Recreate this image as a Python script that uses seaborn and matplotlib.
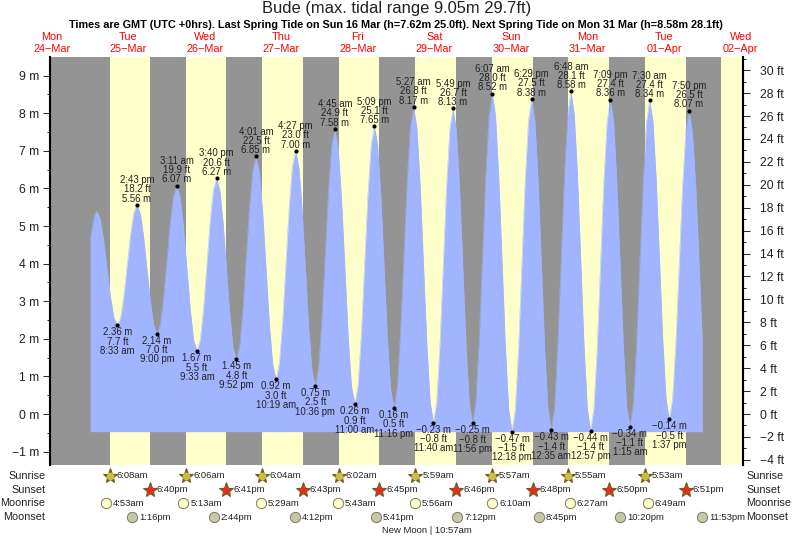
import matplotlib
matplotlib.use("Agg")
import matplotlib.pyplot as plt
from matplotlib.transforms import blended_transform_factory
from matplotlib.ticker import MultipleLocator
import seaborn as sns

sns.set_style("white")
plt.rcParams['font.family'] = ['Liberation Sans', 'DejaVu Sans']

W, H = 793, 539
TITLE = "Bude (max. tidal range 9.05m 29.7ft)"
SUBTITLE = ("Times are GMT (UTC +0hrs). Last Spring Tide on Sun 16 Mar (h=7.62m 25.0ft). "
            "Next Spring Tide on Mon 31 Mar (h=8.58m 28.1ft)")
NOTE = "New Moon | 10:57am"

# day headers (centred on noon of each day, day 0 = 24 Mar)
day_names = ["Mon", "Tue", "Wed", "Thu", "Fri", "Sat", "Sun", "Mon", "Tue", "Wed"]
day_dates = ["24\u2212Mar", "25\u2212Mar", "26\u2212Mar", "27\u2212Mar", "28\u2212Mar",
             "29\u2212Mar", "30\u2212Mar", "31\u2212Mar", "01\u2212Apr", "02\u2212Apr"]

# sun and moon times for days 1..8
sunrise = ["6:08am", "6:06am", "6:04am", "6:02am", "5:59am", "5:57am", "5:55am", "5:53am"]
sunset = ["6:40pm", "6:41pm", "6:43pm", "6:45pm", "6:46pm", "6:48pm", "6:50pm", "6:51pm"]
moonrise = ["4:53am", "5:13am", "5:29am", "5:43am", "5:56am", "6:10am", "6:27am", "6:49am"]
moonset = ["1:16pm", "2:44pm", "4:12pm", "5:41pm", "7:12pm", "8:45pm", "10:20pm", "11:53pm"]
last_sunrise = "5:51am"  # day 9, start of the final daylight band

# labelled tide turning points, alternating low / high
tide_day = [1, 1, 1, 2, 2, 2, 2, 3, 3, 3, 3, 4, 4, 4, 4, 5, 5, 5, 5,
            6, 6, 6, 7, 7, 7, 7, 8, 8, 8, 8]
tide_time = ["8:33 am", "2:43 pm", "9:00 pm", "3:11 am", "9:33 am", "3:40 pm", "9:52 pm",
             "4:01 am", "10:19 am", "4:27 pm", "10:36 pm", "4:45 am", "11:00 am", "5:09 pm",
             "11:16 pm", "5:27 am", "11:40 am", "5:49 pm", "11:56 pm", "6:07 am", "12:18 pm",
             "6:29 pm", "12:35 am", "6:48 am", "12:57 pm", "7:09 pm", "1:15 am", "7:30 am",
             "1:37 pm", "7:50 pm"]
tide_m = [2.36, 5.56, 2.14, 6.07, 1.67, 6.27, 1.45, 6.85, 0.92, 7.00, 0.75, 7.58, 0.26, 7.65,
          0.16, 8.17, -0.23, 8.13, -0.25, 8.52, -0.47, 8.38, -0.43, 8.58, -0.44, 8.36, -0.34,
          8.34, -0.14, 8.07]
tide_ft = [7.7, 18.2, 7.0, 19.9, 5.5, 20.6, 4.8, 22.5, 3.0, 23.0, 2.5, 24.9, 0.9, 25.1,
           0.5, 26.8, -0.8, 26.7, -0.8, 28.0, -1.5, 27.5, -1.4, 28.1, -1.4, 27.4, -1.1,
           27.4, -0.5, 26.5]

# tide curve: hours since 24 Mar 00:00 and height in metres
curve_hours = [
    24.0, 24.7, 25.4, 26.08,
    27.16, 28.24, 29.32, 30.39, 31.47, 32.55,
    33.58, 34.61, 35.64, 36.66, 37.69, 38.72,
    39.77, 40.81, 41.86, 42.91, 43.95, 45.0,
    46.03, 47.06, 48.09, 49.12, 50.15, 51.18,
    52.24, 53.30, 54.37, 55.43, 56.49, 57.55,
    58.57, 59.59, 60.61, 61.63, 62.65, 63.67,
    64.70, 65.74, 66.77, 67.80, 68.84, 69.87,
    70.90, 71.92, 72.95, 73.97, 75.0, 76.02,
    77.07, 78.12, 79.17, 80.22, 81.27, 82.32,
    83.34, 84.36, 85.39, 86.41, 87.43, 88.45,
    89.47, 90.5, 91.52, 92.55, 93.57, 94.6,
    95.62, 96.65, 97.67, 98.7, 99.72, 100.75,
    101.79, 102.83, 103.88, 104.92, 105.96, 107.0,
    108.02, 109.05, 110.07, 111.1, 112.12, 113.15,
    114.17, 115.19, 116.21, 117.23, 118.25, 119.27,
    120.3, 121.33, 122.36, 123.39, 124.42, 125.45,
    126.49, 127.52, 128.56, 129.6, 130.63, 131.67,
    132.7, 133.72, 134.75, 135.77, 136.8, 137.82,
    138.84, 139.86, 140.88, 141.89, 142.91, 143.93,
    144.96, 145.99, 147.03, 148.06, 149.09, 150.12,
    151.15, 152.18, 153.21, 154.24, 155.27, 156.3,
    157.33, 158.36, 159.39, 160.42, 161.45, 162.48,
    163.5, 164.51, 165.53, 166.55, 167.56, 168.58,
    169.62, 170.65, 171.69, 172.73, 173.76, 174.8,
    175.83, 176.85, 177.88, 178.9, 179.93, 180.95,
    181.98, 183.02, 184.05, 185.08, 186.12, 187.15,
    188.17, 189.18, 190.2, 191.22, 192.23, 193.25,
    194.29, 195.33, 196.38, 197.42, 198.46, 199.5,
    200.52, 201.54, 202.56, 203.58, 204.6, 205.62,
    206.66, 207.69, 208.73, 209.76, 210.8, 211.83,
    212.87, 213.9, 214.95, 216.0,
]
curve_m = [
    4.63, 5.0, 5.3, 5.40,
    5.20, 4.64, 3.88, 3.12, 2.56, 2.36,
    2.57, 3.16, 3.96, 4.76, 5.35, 5.56,
    5.33, 4.70, 3.85, 3.00, 2.37, 2.14,
    2.40, 3.12, 4.10, 5.09, 5.81, 6.07,
    5.78, 4.97, 3.87, 2.77, 1.96, 1.67,
    1.98, 2.82, 3.97, 5.12, 5.96, 6.27,
    5.95, 5.07, 3.86, 2.66, 1.77, 1.45,
    1.81, 2.80, 4.15, 5.50, 6.49, 6.85,
    6.45, 5.37, 3.89, 2.40, 1.32, 0.92,
    1.33, 2.44, 3.96, 5.48, 6.59, 7.00,
    6.58, 5.44, 3.88, 2.31, 1.17, 0.75,
    1.21, 2.46, 4.17, 5.87, 7.13, 7.58,
    7.09, 5.75, 3.92, 2.09, 0.75, 0.26,
    0.76, 2.11, 3.96, 5.80, 7.15, 7.65,
    7.15, 5.78, 3.91, 2.03, 0.66, 0.16,
    0.70, 2.16, 4.17, 6.17, 7.63, 8.17,
    7.61, 6.07, 3.97, 1.87, 0.33, -0.23,
    0.33, 1.86, 3.95, 6.04, 7.57, 8.13,
    7.57, 6.04, 3.94, 1.85, 0.31, -0.25,
    0.34, 1.94, 4.14, 6.33, 7.93, 8.52,
    7.92, 6.27, 4.03, 1.78, 0.13, -0.47,
    0.12, 1.74, 3.96, 6.17, 7.79, 8.38,
    7.79, 6.18, 3.98, 1.77, 0.16, -0.43,
    0.17, 1.82, 4.08, 6.33, 7.97, 8.58,
    7.98, 6.33, 4.07, 1.82, 0.16, -0.44,
    0.15, 1.76, 3.96, 6.16, 7.77, 8.36,
    7.78, 6.19, 4.01, 1.84, 0.23, -0.34,
    0.24, 1.83, 4.00, 6.17, 7.76, 8.34,
    7.77, 6.22, 4.10, 1.98, 0.43, -0.14,
    0.41, 1.91, 3.97, 6.02, 7.52, 8.07,
    7.5, 6.1, 4.1, 1.9,
]


def clock(text):
    t = text.replace(" ", "")
    hh, mm = t[:-2].split(":")
    return int(hh) % 12 + int(mm) / 60 + (12 if t.endswith("pm") else 0)


GREY, YELLOW, BLUE = "#949494", "#ffffcc", "#a0b4ff"
INK = "#222222"

fig = plt.figure(figsize=(W / 100, H / 100), dpi=100, facecolor="white")
ax = fig.add_axes([49.5 / W, 1 - 465.3 / H, (743 - 49.5) / W, (465.3 - 57.3) / H], facecolor=GREY)
ax.set_xlim(11.28, 228.75)
ax.set_ylim(-1.364, 9.487)

# daylight bands
for i, (rise, sett) in enumerate(zip(sunrise, sunset), start=1):
    ax.axvspan(24 * i + clock(rise), 24 * i + clock(sett), color=YELLOW, lw=0, zorder=1)
ax.axvspan(24 * 9 + clock(last_sunrise), 228.75, color=YELLOW, lw=0, zorder=1)

# tide
ax.fill_between(curve_hours, curve_m, min(tide_m), color=BLUE, lw=0, zorder=2)
sns.lineplot(x=curve_hours, y=curve_m, sort=False, estimator=None, color=BLUE, lw=0.3, ax=ax, zorder=2)

tide_hours = [24 * d + clock(t) for d, t in zip(tide_day, tide_time)]
sns.scatterplot(x=tide_hours, y=tide_m, color="black", s=9, linewidth=0, ax=ax, zorder=4, clip_on=False)


def fmt(v, unit):
    return f"{v:.2f} m" if unit == "m" else f"{v:.1f} ft"


for i, (x, m, ft, t) in enumerate(zip(tide_hours, tide_m, tide_ft, tide_time)):
    ms = fmt(m, "m").replace("-", "\u2212")
    fs = fmt(ft, "ft").replace("-", "\u2212")
    high = i % 2 == 1
    rows = ([(ms, 6.3), (fs, 15.6), (t, 24.8)] if high else [(t, -25.7), (fs, -16.4), (ms, -7)])
    for s, dy in rows:
        ax.annotate(s, (x, m), xytext=(0, dy), textcoords="offset pixels", ha="center",
                    va="center", fontsize=6.9, color=INK, zorder=5, annotation_clip=False)

# axes
for side in ("top", "bottom"):
    ax.spines[side].set_visible(False)
ax.spines["left"].set_linewidth(1.5)
ax.spines["left"].set_color("black")
ax.set_xticks([])
ax.yaxis.set_major_locator(MultipleLocator(1))
ax.yaxis.set_minor_locator(MultipleLocator(0.5))
ax.set_yticks(list(range(-1, 10)))
ax.set_yticklabels([f"{v} m".replace("-", "\u2212") for v in range(-1, 10)], fontsize=8.7, color=INK)
ax.tick_params(axis="y", which="major", left=True, length=5, width=0.7, pad=2.5)
ax.tick_params(axis="y", which="minor", left=True, length=2.5, width=0.7)

axr = ax.twinx()
axr.set_ylim(-1.364 * 3.28084, 9.487 * 3.28084)
for side in ("top", "bottom", "left"):
    axr.spines[side].set_visible(False)
axr.spines["right"].set_linewidth(1.5)
axr.spines["right"].set_color("black")
axr.yaxis.set_minor_locator(MultipleLocator(1))
axr.set_yticks(list(range(-4, 31, 2)))
axr.set_yticklabels([f"{v} ft".replace("-", "\u2212") for v in range(-4, 31, 2)], fontsize=8.7, color=INK)
axr.tick_params(axis="y", which="major", right=True, length=5, width=0.7, pad=7)
axr.tick_params(axis="y", which="minor", right=True, length=2.5, width=0.7)

# headings
fig.text(396.5 / W, 1 - 8 / H, TITLE, ha="center", va="center", fontsize=11.9, color=INK)
fig.text(396 / W, 1 - 25 / H, SUBTITLE, ha="center", va="center", fontsize=7.85, color="black", fontweight="bold")
tr_x = blended_transform_factory(ax.transData, fig.transFigure)
for i, (n, d) in enumerate(zip(day_names, day_dates)):
    xh = 24 * i + 12
    ax.text(xh, 1 - 37.5 / H, n, transform=tr_x, ha="center", va="center", fontsize=7.8, color="red", clip_on=False)
    ax.text(xh, 1 - 49 / H, d, transform=tr_x, ha="center", va="center", fontsize=7.8, color="red", clip_on=False)


# almanac rows
def row(times, y, label, draw):
    yf = 1 - y / H
    fig.text(45.5 / W, yf, label, ha="right", va="center", fontsize=7.8, color=INK)
    fig.text(746.5 / W, yf, label, ha="left", va="center", fontsize=7.8, color=INK)
    for i, t in enumerate(times, start=1):
        xh = 24 * i + clock(t)
        draw(xh, yf)
        ax.annotate(t, (xh, yf), xycoords=tr_x, xytext=(7, 0), textcoords="offset pixels",
                    ha="left", va="center", fontsize=6.8, color=INK, annotation_clip=False)


def star(fill):
    def draw(xh, yf):
        ax.plot([xh], [yf], transform=tr_x, marker="*", ms=11, mfc="#7a5a20", mec="#7a5a20", mew=0.8,
                clip_on=False, zorder=6)
        ax.plot([xh], [yf], transform=tr_x, marker="o", ms=5.5, mfc=fill, mec="none", clip_on=False, zorder=7)
    return draw


def moon(fill):
    def draw(xh, yf):
        ax.plot([xh], [yf], transform=tr_x, marker="o", ms=7.4, mfc=fill, mec="#777766", mew=0.7,
                clip_on=False, zorder=6)
    return draw


row(sunrise, 475.7, "Sunrise", star("#c8c040"))
row(sunset, 489.7, "Sunset", star("#e03020"))
row(moonrise, 503, "Moonrise", moon("#ffffcc"))
row(moonset, 517, "Moonset", moon("#c8c8a8"))
fig.text(427 / W, 1 - 530.5 / H, NOTE, ha="center", va="center", fontsize=6.8, color=INK)

fig.savefig("out.png", dpi=100, facecolor="white")
